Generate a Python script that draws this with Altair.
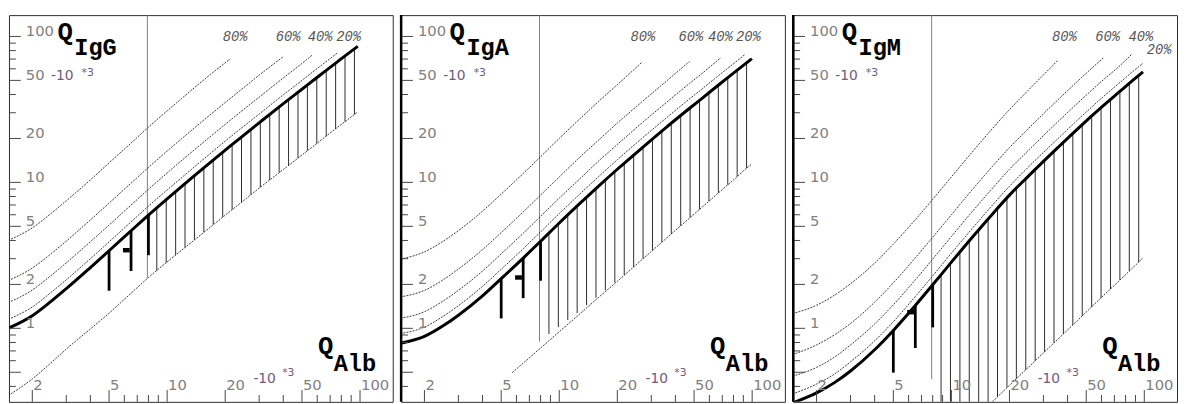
import altair as alt
import pandas as pd

# ---------------- data (units: 10^-3) ----------------
X_DOMAIN = [1.514, 147.8]
Y_DOMAIN = [0.3135, 140]

Y_MAJOR = [0.5, 1, 2, 5, 10, 20, 50, 100]
Y_MINOR = [0.4, 0.6, 0.7, 0.8, 0.9, 3, 4, 6, 7, 8, 9, 30, 40, 60, 70, 80, 90]
Y_LABELS = [1, 2, 5, 10, 20, 50, 100]
X_MAJOR = [2, 5, 10, 20, 50, 100]
X_MINOR = [3, 4, 6, 7, 8, 9, 30, 40, 60, 70, 80, 90]
X_LABELS = [2, 5, 10, 20, 50, 100]

PCT_NAMES = ["80%", "60%", "40%", "20%"]

HATCH_X = [8.84, 9.89, 11.07, 12.38, 13.85, 15.50, 17.34, 19.41, 21.72, 24.30, 27.19,
           30.42, 34.03, 38.08, 42.61, 47.68, 53.35, 59.69, 66.79, 74.73, 83.61, 93.55]
LIMIT_X = 7.9
BAR_X = [5, 6.5, 8]
MARK_X = [5.9, 6.4]

# --- IgG ---
IGG_X = [1.5, 2, 2.5, 3, 4, 5, 6.5, 8, 10, 13, 16, 21.2, 25, 30, 40.2, 50, 56.7, 65, 76.6, 85, 97.3]
IGG_UPPER = [1.00, 1.22, 1.53, 1.87, 2.61, 3.40, 4.66, 5.97, 7.72, 10.38, 13.05, 17.7, 21.1, 25.6,
             34.8, 43.5, 49.5, 56.9, 67.3, 74.8, 85.6]
IGG_IF80 = [4.0, 4.88, 6.12, 7.48, 10.4, 13.6, 18.6, 23.9, 30.9, 41.5, 52.2, 70.0]
IGG_IF60 = [2.12, 2.59, 3.24, 3.96, 5.53, 7.21, 9.88, 12.66, 16.4, 22.0, 27.7, 37.5, 44.7, 54.3, 73.0]
IGG_IF40 = [1.50, 1.83, 2.30, 2.81, 3.92, 5.10, 6.99, 8.96, 11.6, 15.6, 19.6, 26.6, 31.7, 38.4,
            52.2, 65.3, 74.8]
IGG_IF20 = [1.15, 1.40, 1.76, 2.15, 3.00, 3.91, 5.36, 6.87, 8.88, 11.9, 15.0, 20.4, 24.3, 29.4,
            40.0, 50.0, 56.9, 65.4, 77.3]
IGG_LOWER_X = IGG_X
IGG_LOWER = [0.346, 0.45, 0.58, 0.72, 0.99, 1.27, 1.74, 2.23, 2.85, 3.77, 4.70, 6.34, 7.53, 9.13,
             12.3, 15.4, 17.5, 20.2, 23.9, 26.5, 30.4]
IGG_HATCH_TOP = [6.70, 7.62, 8.66, 9.82, 11.13, 12.60, 14.25, 16.10, 18.17, 20.48, 23.07, 25.96,
                 29.19, 32.8, 36.8, 41.3, 46.4, 52.1, 58.4, 65.5, 73.4, 82.3]
IGG_HATCH_BOTTOM = [2.48, 2.82, 3.18, 3.58, 4.04, 4.55, 5.14, 5.79, 6.51, 7.31, 8.23, 9.26, 10.39,
                    11.67, 13.08, 14.67, 16.48, 18.47, 20.72, 23.26, 26.06, 29.19]
IGG_BAR_TOP = [3.40, 4.66, 5.97]
IGG_BAR_BOTTOM = [1.81, 2.47, 3.17]
IGG_MARK_Y = 3.43
IGG_LIMIT_BOTTOM = 2.20
IGG_PCT_X = [22.5, 42.4, 62.1, 87.3]
IGG_PCT_Y = [99, 99, 99, 99]

# --- IgA ---
IGA_X = [1.5, 2, 2.5, 3, 4, 5, 6.5, 8, 10, 13, 16, 20, 26.8, 35, 47.4, 55, 68.7, 80, 92.1, 99.7]
IGA_UPPER = [0.79, 0.88, 1.04, 1.23, 1.67, 2.19, 3.03, 3.95, 5.27, 7.32, 9.44, 12.3, 17.2, 23.2,
             32.2, 37.7, 47.8, 56.0, 64.9, 70.4]
IGA_IF80 = [2.98, 3.34, 3.95, 4.67, 6.35, 8.32, 11.5, 15.0, 20.0, 27.8, 35.9, 46.7, 66.5]
IGA_IF60 = [1.64, 1.82, 2.15, 2.55, 3.46, 4.53, 6.27, 8.18, 10.9, 15.2, 19.5, 25.5, 35.6, 48.0, 67.5]
IGA_IF40 = [1.17, 1.30, 1.54, 1.82, 2.47, 3.24, 4.48, 5.85, 7.80, 10.8, 14.0, 18.2, 25.5, 34.3,
            47.7, 55.8, 71.5]
IGA_IF20 = [0.92, 1.02, 1.21, 1.43, 1.94, 2.54, 3.51, 4.58, 6.11, 8.49, 10.95, 14.3, 20.0, 26.9,
            37.4, 43.7, 55.4, 65.0, 75.5]
IGA_LOWER_X = [5.7, 8, 10, 13, 16, 20, 26.8, 35, 47.4, 55, 68.7, 80, 92.1, 98.9]
IGA_LOWER = [0.497, 0.733, 0.948, 1.28, 1.63, 2.10, 2.95, 4.02, 5.70, 6.76, 8.74, 10.4, 12.3, 13.3]
IGA_HATCH_TOP = [4.47, 5.16, 5.95, 6.85, 7.87, 9.03, 10.33, 11.81, 13.47, 15.33, 17.43, 19.78,
                 22.4, 25.4, 28.7, 32.4, 36.5, 41.1, 46.3, 52.1, 58.6, 65.9]
IGA_HATCH_BOTTOM = [0.915, 1.02, 1.14, 1.27, 1.44, 1.62, 1.82, 2.06, 2.32, 2.64, 3.00, 3.42, 3.89,
                    4.43, 5.04, 5.74, 6.53, 7.43, 8.46, 9.63, 10.96, 12.48]
IGA_BAR_TOP = [2.19, 3.03, 3.95]
IGA_BAR_BOTTOM = [1.17, 1.61, 2.12]
IGA_MARK_Y = 2.23
IGA_LIMIT_BOTTOM = 0.81
IGA_PCT_X = [27.1, 48.1, 68.4, 95.7]
IGA_PCT_Y = [99, 99, 99, 99]

# --- IgM ---
IGM_X = [1.5, 2, 2.5, 3, 4, 5, 6.5, 8, 10, 13, 16, 20, 25, 35.6, 45, 61.5, 75, 85.9, 98.5]
IGM_UPPER = [0.308, 0.361, 0.428, 0.51, 0.713, 0.968, 1.434, 1.988, 2.84, 4.29, 5.89, 8.18, 11.0,
             17.3, 23.2, 33.7, 42.2, 49.2, 57.2]
IGM_IF80 = [1.26, 1.44, 1.70, 2.02, 2.80, 3.78, 5.55, 7.65, 10.9, 16.5, 22.7, 31.5, 42.7, 68.5]
IGM_IF60 = [0.66, 0.77, 0.91, 1.08, 1.51, 2.05, 3.04, 4.21, 6.0, 9.1, 12.5, 17.3, 23.3, 36.7, 49.2, 71.5]
IGM_IF40 = [0.47, 0.54, 0.64, 0.77, 1.07, 1.45, 2.15, 2.98, 4.26, 6.44, 8.84, 12.3, 16.5, 26.0,
            34.8, 50.6, 63.3, 75.3]
IGM_IF20 = [0.355, 0.415, 0.49, 0.59, 0.82, 1.11, 1.65, 2.29, 3.27, 4.93, 6.78, 9.41, 12.7, 19.9,
            26.7, 38.8, 48.5, 56.6, 65.5]
IGM_LOWER_X = [15, 17.6, 25, 35.6, 45, 61.5, 75, 85.9, 98.5]
IGM_LOWER = [0.283, 0.346, 0.539, 0.841, 1.13, 1.68, 2.15, 2.55, 3.04]
IGM_HATCH_TOP = [2.33, 2.79, 3.33, 3.98, 4.73, 5.62, 6.64, 7.83, 9.20, 10.76, 12.29, 14.2, 16.38,
                 18.87, 21.7, 24.9, 28.5, 32.5, 37.0, 42.0, 47.7, 54.1]
IGM_HATCH_BOTTOM = [0.3, 0.3, 0.3, 0.3, 0.3, 0.3, 0.340, 0.392, 0.451, 0.520, 0.599, 0.690, 0.795,
                    0.916, 1.056, 1.216, 1.401, 1.614, 1.859, 2.142, 2.468, 2.844]
IGM_BAR_TOP = [0.968, 1.434, 1.988]
IGM_BAR_BOTTOM = [0.497, 0.733, 1.015]
IGM_MARK_Y = 1.29
IGM_LIMIT_BOTTOM = 0.448
IGM_PCT_X = [38.5, 64.6, 96.1, 119.5]
IGM_PCT_Y = [99, 99, 99, 80.4]

# text anchor positions (data coordinates)
Q_POS = (2.70, 95.0)
SUB_POS = (3.30, 75.0)
QALB_POS = (60.5, 0.665)
ALB_POS = (73.0, 0.510)
YUNIT_POS = (2.50, 50.0)
YEXP_POS = (3.60, 53.5)
XUNIT_POS = (28.0, 0.421)
XEXP_POS = (39.5, 0.472)
YLABEL_X = 1.85
XLABEL_Y = 0.378

W, H = 390, 393
XS = alt.Scale(type="log", domain=X_DOMAIN, nice=False)
YS = alt.Scale(type="log", domain=Y_DOMAIN, nice=False)
LABEL_GRAY = "#808080"
UNIT_COL = "#6e5a82"


def X(f):
    return alt.X(f, type="quantitative", scale=XS, axis=None)


def Y(f):
    return alt.Y(f, type="quantitative", scale=YS, axis=None)


def texts(rows, **kw):
    df = pd.DataFrame(rows, columns=["x", "y", "t"])
    return alt.Chart(df).mark_text(**kw).encode(x=X("x"), y=Y("y"), text="t:N")


def panel(name, grid, upper, ifs, lower_x, lower_y, htop, hbot, btop, bbot, mark_y, limit_bottom,
          pct_x, pct_y, heavy_left):
    rows = []
    for cname, vals in zip(PCT_NAMES, ifs):
        for xv, yv in zip(grid, vals):
            rows.append({"curve": cname, "x": xv, "y": yv})
    for xv, yv in zip(lower_x, lower_y):
        rows.append({"curve": "lower", "x": xv, "y": yv})
    dotted = alt.Chart(pd.DataFrame(rows)).mark_line(
        stroke="#222222", strokeWidth=0.9, strokeDash=[2, 1.2], clip=True, interpolate="monotone"
    ).encode(x=X("x"), y=Y("y"), detail="curve:N")

    thick = alt.Chart(pd.DataFrame({"x": grid, "y": upper})).mark_line(
        color="black", strokeWidth=3, clip=True, interpolate="monotone", strokeCap="butt"
    ).encode(x=X("x"), y=Y("y"))

    hatch = alt.Chart(pd.DataFrame({"x": HATCH_X, "top": htop, "bottom": hbot})).mark_rule(
        color="#2a2a2a", strokeWidth=1, clip=True
    ).encode(x=X("x"), y=Y("bottom"), y2="top")

    limit = alt.Chart(pd.DataFrame({"x": [LIMIT_X], "top": [Y_DOMAIN[1]], "bottom": [limit_bottom]})).mark_rule(
        color="#808080", strokeWidth=1, clip=True
    ).encode(x=X("x"), y=Y("bottom"), y2="top")

    bars = alt.Chart(pd.DataFrame({"x": BAR_X, "top": btop, "bottom": bbot})).mark_rule(
        color="black", strokeWidth=2.8, strokeCap="butt"
    ).encode(x=X("x"), y=Y("bottom"), y2="top")

    mark = alt.Chart(pd.DataFrame({"x": [MARK_X[0]], "x2": [MARK_X[1]], "y": [mark_y]})).mark_rule(
        color="black", strokeWidth=4.5, strokeCap="butt"
    ).encode(x=X("x"), x2="x2", y=Y("y"))

    ymaj = alt.Chart(pd.DataFrame({"v": Y_MAJOR})).mark_rule(color="#444", strokeWidth=1).encode(
        y=Y("v"), x=alt.value(0), x2=alt.value(12))
    ymin = alt.Chart(pd.DataFrame({"v": Y_MINOR})).mark_rule(color="#444", strokeWidth=1).encode(
        y=Y("v"), x=alt.value(0), x2=alt.value(7))
    xmaj = alt.Chart(pd.DataFrame({"v": X_MAJOR})).mark_rule(color="#444", strokeWidth=1).encode(
        x=X("v"), y=alt.value(H), y2=alt.value(H - 12))
    xmin = alt.Chart(pd.DataFrame({"v": X_MINOR})).mark_rule(color="#444", strokeWidth=1).encode(
        x=X("v"), y=alt.value(H), y2=alt.value(H - 7))

    ylab = texts([(YLABEL_X, v, str(v)) for v in Y_LABELS], align="left", baseline="alphabetic",
                 font="DejaVu Sans", fontSize=15, color=LABEL_GRAY)
    xlab = texts([(v, XLABEL_Y, str(v)) for v in X_LABELS], align="left", baseline="alphabetic",
                 dx=1, font="DejaVu Sans", fontSize=15, color=LABEL_GRAY)
    units = texts([(YUNIT_POS[0], YUNIT_POS[1], "-10"), (XUNIT_POS[0], XUNIT_POS[1], "-10")],
                  align="left", baseline="alphabetic", font="DejaVu Sans", fontSize=14, color=UNIT_COL)
    exps = texts([(YEXP_POS[0], YEXP_POS[1], "*3"), (XEXP_POS[0], XEXP_POS[1], "*3")],
                 align="left", baseline="alphabetic", font="DejaVu Sans", fontSize=11, color=UNIT_COL)
    big = texts([(Q_POS[0], Q_POS[1], "Q"), (QALB_POS[0], QALB_POS[1], "Q")], align="left",
                baseline="alphabetic", font="Liberation Mono", fontSize=26, fontWeight="bold",
                color="black")
    subs = texts([(SUB_POS[0], SUB_POS[1], name), (ALB_POS[0], ALB_POS[1], "Alb")], align="left",
                 baseline="alphabetic", font="Liberation Mono", fontSize=24, fontWeight="bold",
                 color="black")
    pct = texts(list(zip(pct_x, pct_y, PCT_NAMES)), align="center", baseline="middle",
                font="Liberation Mono", fontSize=14, fontStyle="italic", color="#555555")

    layers = [limit, hatch, dotted, thick, bars, mark, ymaj, ymin, xmaj, xmin,
              ylab, xlab, units, exps, big, subs, pct]
    if heavy_left:
        edge = alt.Chart(pd.DataFrame({"x": [X_DOMAIN[0]], "top": [Y_DOMAIN[1]], "bottom": [Y_DOMAIN[0]]})).mark_rule(
            color="black", strokeWidth=2.5
        ).encode(x=X("x"), y=Y("bottom"), y2="top")
        layers.append(edge)
    return alt.layer(*layers).properties(width=W, height=H)


p1 = panel("IgG", IGG_X, IGG_UPPER, [IGG_IF80, IGG_IF60, IGG_IF40, IGG_IF20], IGG_LOWER_X, IGG_LOWER,
           IGG_HATCH_TOP, IGG_HATCH_BOTTOM, IGG_BAR_TOP, IGG_BAR_BOTTOM, IGG_MARK_Y, IGG_LIMIT_BOTTOM,
           IGG_PCT_X, IGG_PCT_Y, False)
p2 = panel("IgA", IGA_X, IGA_UPPER, [IGA_IF80, IGA_IF60, IGA_IF40, IGA_IF20], IGA_LOWER_X, IGA_LOWER,
           IGA_HATCH_TOP, IGA_HATCH_BOTTOM, IGA_BAR_TOP, IGA_BAR_BOTTOM, IGA_MARK_Y, IGA_LIMIT_BOTTOM,
           IGA_PCT_X, IGA_PCT_Y, True)
p3 = panel("IgM", IGM_X, IGM_UPPER, [IGM_IF80, IGM_IF60, IGM_IF40, IGM_IF20], IGM_LOWER_X, IGM_LOWER,
           IGM_HATCH_TOP, IGM_HATCH_BOTTOM, IGM_BAR_TOP, IGM_BAR_BOTTOM, IGM_MARK_Y, IGM_LIMIT_BOTTOM,
           IGM_PCT_X, IGM_PCT_Y, True)

chart = alt.hconcat(p1, p2, p3, spacing=5.5).properties(
    padding={"left": 0, "top": 2, "right": 0, "bottom": 0},
    background="white",
).configure_view(stroke="#2b2b2b", strokeWidth=1)

chart.save("out.html", embed_options={"renderer": "svg", "actions": False})
